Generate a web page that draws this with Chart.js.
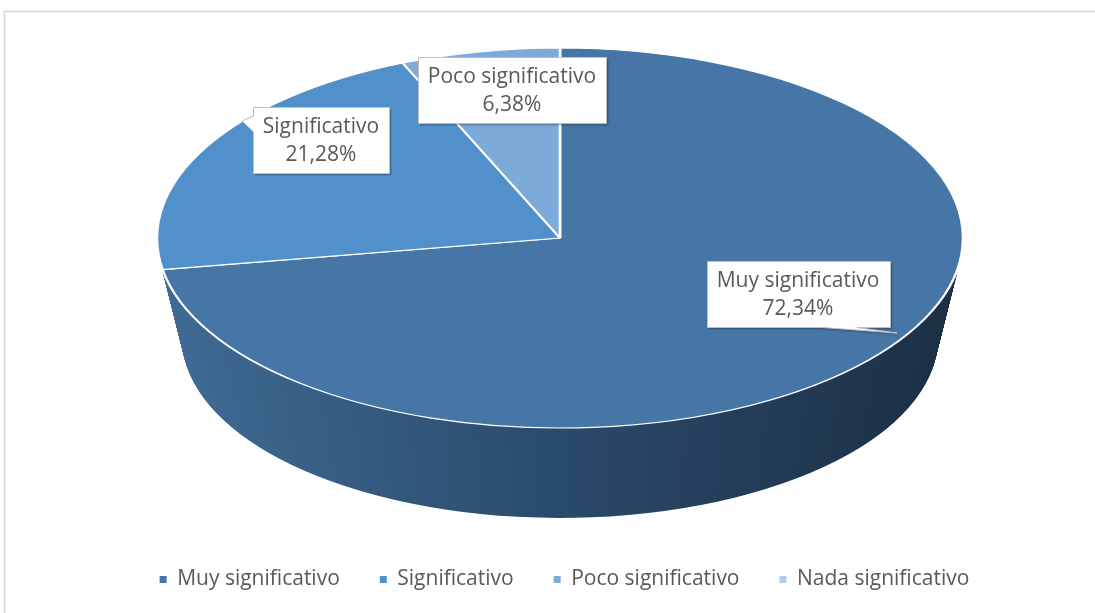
<!DOCTYPE html>
<html>
<head>
<meta charset="utf-8">
<script src="https://cdn.jsdelivr.net/npm/chart.js@4"></script>
<style>
  html, body { margin: 0; padding: 0; background: #fff; }
  canvas { display: block; }
</style>
</head>
<body>
<canvas id="pieChart" width="1095" height="613"></canvas>
<script>
// Data
const categories = ['Muy significativo', 'Significativo', 'Poco significativo', 'Nada significativo'];
const percentages = [72.34, 21.28, 6.38, 0];

// Look
const sliceColors = ['#4576A5', '#5190CA', '#7EAADA', '#B4CBE8'];
const sideStops = [[0, '#3F6B94'], [0.5, '#2A4A6B'], [1, '#1C2F44']];
const textColor = '#595959';
const fontFamily = '"Open Sans", Lato, sans-serif';
const fontSize = 21;

// where the squashed (3D) pie goes on the page; bottom rim is a bit smaller (perspective)
const pie3d = { cx: 560, cy: 238, rx: 403, ry: 190, depth: 90, shrinkX: 25, shrinkY: 10 };

// data label boxes (moved by hand in the original chart)
const labelBoxes = [
  { x: 798, y: 294, pointer: { side: 'bottom', from: 822, to: 857, tip: [897, 333] } },
  { x: 321, y: 140, pointer: { side: 'left', from: 116, to: 132, tip: [242, 121] } },
  { x: 512, y: 90, pointer: null },
  null
];

const fmtPct = v => v.toFixed(2).replace('.', ',') + '%';

// Draw chart frame + white background
const framePlugin = {
  id: 'frame',
  beforeDraw(chart) {
    const ctx = chart.ctx;
    ctx.save();
    ctx.fillStyle = '#fff';
    ctx.fillRect(0, 0, chart.width, chart.height);
    ctx.strokeStyle = '#D5D5D5';
    ctx.lineWidth = 1.5;
    ctx.beginPath();
    ctx.moveTo(4.5, chart.height);
    ctx.lineTo(4.5, 11.5);
    ctx.lineTo(chart.width, 11.5);
    ctx.stroke();
    ctx.restore();
  }
};

// Squash the pie into an ellipse and give it a side wall
const pie3dPlugin = {
  id: 'pie3d',
  beforeDatasetsDraw(chart) {
    const ctx = chart.ctx;
    const arcs = chart.getDatasetMeta(0).data;
    const { x: cx, y: cy, outerRadius: r } = arcs[0];
    const toEllipse = d => {
      const t = d / pie3d.depth;
      const rx = pie3d.rx - pie3d.shrinkX * t;
      const ry = pie3d.ry - pie3d.shrinkY * t;
      ctx.translate(pie3d.cx, pie3d.cy + d + (pie3d.ry - ry));
      ctx.scale(rx / r, ry / r);
      ctx.translate(-cx, -cy);
    };

    for (let d = pie3d.depth; d > 0; d--) {
      ctx.save();
      toEllipse(d);
      const grad = ctx.createLinearGradient(cx - r, 0, cx + r, 0);
      sideStops.forEach(([p, c]) => grad.addColorStop(p, c));
      arcs.forEach(arc => {
        const saved = arc.options;
        arc.options = Object.assign({}, saved, { backgroundColor: grad, borderWidth: 0 });
        arc.draw(ctx);
        arc.options = saved;
      });
      ctx.restore();
    }

    // top surface is drawn by Chart.js under this transform
    ctx.save();
    toEllipse(0);
  },
  afterDatasetsDraw(chart) {
    chart.ctx.restore();
  }
};

function boxPath(ctx, x0, y0, x1, y1, p) {
  ctx.beginPath();
  ctx.moveTo(x0, y0);
  if (p && p.side === 'top') {
    ctx.lineTo(p.from, y0); ctx.lineTo(p.tip[0], p.tip[1]); ctx.lineTo(p.to, y0);
  }
  ctx.lineTo(x1, y0);
  ctx.lineTo(x1, y1);
  if (p && p.side === 'bottom') {
    ctx.lineTo(p.to, y1); ctx.lineTo(p.tip[0], p.tip[1]); ctx.lineTo(p.from, y1);
  }
  ctx.lineTo(x0, y1);
  if (p && p.side === 'left') {
    ctx.lineTo(x0, p.to); ctx.lineTo(p.tip[0], p.tip[1]); ctx.lineTo(x0, p.from);
  }
  ctx.closePath();
}

// Data labels: "category\nvalue" in white callout boxes
const labelPlugin = {
  id: 'callouts',
  afterDraw(chart) {
    const ctx = chart.ctx;
    ctx.save();
    ctx.font = fontSize + 'px ' + fontFamily;
    ctx.textAlign = 'center';
    ctx.textBaseline = 'middle';
    categories.forEach((cat, i) => {
      const box = labelBoxes[i];
      if (!box || !percentages[i]) return;
      const line2 = fmtPct(percentages[i]);
      const w = Math.max(ctx.measureText(cat).width, ctx.measureText(line2).width) + 20;
      const h = 66;
      const x0 = Math.round(box.x - w / 2) + 0.5, y0 = Math.round(box.y - h / 2) + 0.5;
      const x1 = x0 + Math.round(w), y1 = y0 + h;

      ctx.save();
      ctx.shadowColor = 'rgba(0,0,0,0.35)';
      ctx.shadowBlur = 2;
      ctx.shadowOffsetX = 1.5;
      ctx.shadowOffsetY = 1.5;
      boxPath(ctx, x0, y0, x1, y1, box.pointer);
      ctx.fillStyle = '#fff';
      ctx.fill();
      ctx.restore();

      boxPath(ctx, x0, y0, x1, y1, box.pointer);
      ctx.strokeStyle = '#BFBFBF';
      ctx.lineWidth = 1;
      ctx.stroke();

      ctx.fillStyle = textColor;
      ctx.fillText(cat, box.x, box.y - 13);
      ctx.fillText(line2, box.x, box.y + 15);
    });
    ctx.restore();
  }
};

const baseLabels = (Chart.overrides.pie || Chart.overrides.doughnut).plugins.legend.labels.generateLabels;

new Chart(document.getElementById('pieChart'), {
  type: 'pie',
  data: {
    labels: categories,
    datasets: [{
      data: percentages,
      backgroundColor: sliceColors,
      borderColor: '#ffffff',
      borderWidth: 1.6,
      clip: false
    }]
  },
  options: {
    responsive: false,
    animation: false,
    events: [],
    rotation: 0,
    layout: { padding: { left: 40, right: 6, top: 20, bottom: 13 } },
    plugins: {
      tooltip: { enabled: false },
      legend: {
        position: 'bottom',
        labels: {
          boxWidth: 7,
          boxHeight: 7,
          padding: 40,
          color: textColor,
          font: { family: fontFamily, size: fontSize },
          generateLabels: chart => baseLabels(chart).map(item => ({ ...item, lineWidth: 0 }))
        }
      }
    }
  },
  plugins: [framePlugin, pie3dPlugin, labelPlugin]
});
</script>
</body>
</html>
